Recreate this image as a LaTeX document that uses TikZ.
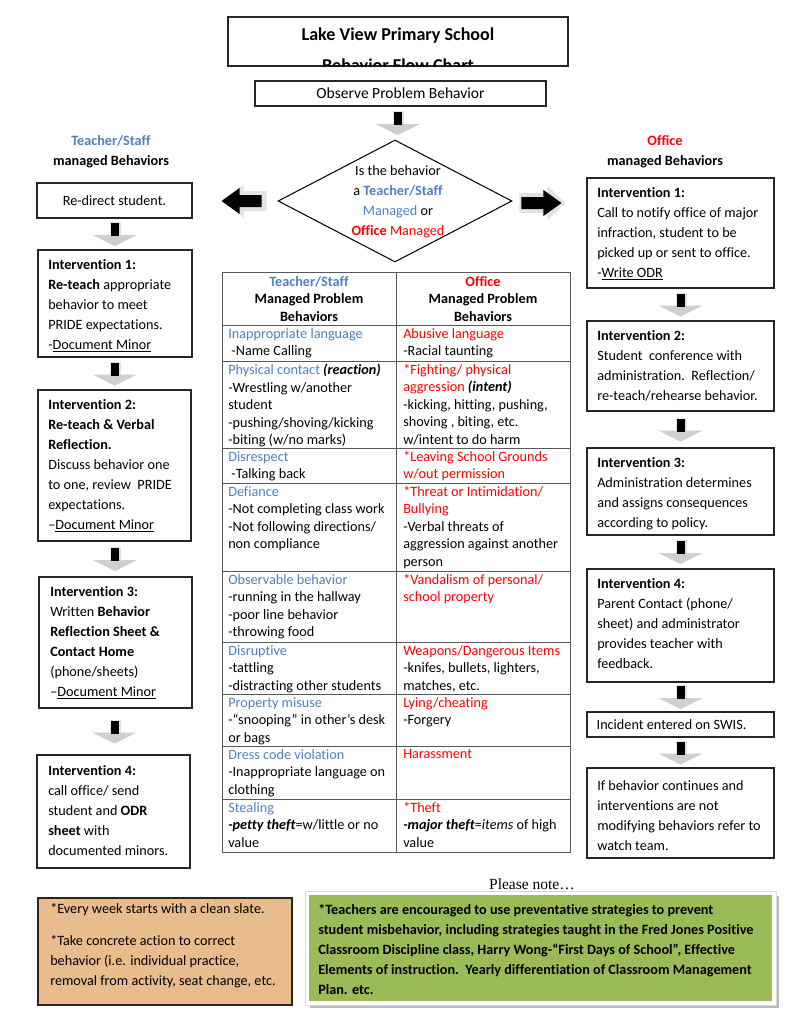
\documentclass[tikz,border=0pt]{standalone}
\usepackage{fontspec}
\setmainfont{Carlito}[Ligatures=NoCommon]
\newfontfamily\notefont{Liberation Serif}
\usetikzlibrary{calc,fit,shapes.geometric}
\definecolor{tblue}{HTML}{4F81BD}
\definecolor{ored}{HTML}{FF0000}
\definecolor{orfill}{RGB}{232,188,140}
\definecolor{grfill}{HTML}{9BBB59}
\newcommand\tb[1]{\textcolor{tblue}{#1}}
\newcommand\orr[1]{\textcolor{ored}{#1}}
\newcommand\bi[1]{\textbf{\textit{#1}}}
% down block arrow between two named nodes
\newcommand\darr[2]{%
  \coordinate (m#1) at ($(#1.south)!0.5!(#2.north)$);
  \fill[gray!22] ($(m#1)+(-5,-12)$) rectangle ($(m#1)+(6,3)$);
  \fill[gray!38] ($(m#1)+(-22,1)$) -- ($(m#1)+(22,1)$) -- ($(m#1)+(0,12)$) -- cycle;
  \fill[black] ($(m#1)+(-4,-11)$) rectangle ($(m#1)+(4,2)$);
}
\begin{document}
\begin{tikzpicture}[x=0.7737pt,y=-0.7737pt,
  bx/.style={draw=black!85,line width=0.9pt,inner sep=0pt},
  tx/.style={font=\fontsize{11}{15.5}\selectfont,align=left,inner sep=0pt,anchor=north west},
  tc/.style={font=\fontsize{11}{13.55}\selectfont,align=left,inner sep=0pt,anchor=north west},
  hd/.style={font=\fontsize{11}{13.55}\selectfont\bfseries,align=center,inner sep=0pt},
  tline/.style={draw=black!65,line width=0.6pt},
  harrow/.style={fill=black},
  hhalo/.style={fill=gray!22}]
\useasboundingbox (0,0) rectangle (791,1024);
\fill[white] (0,0) rectangle (791,1024);

% ---------- title ----------
\node[bx, fit={(228,17)(568,66)}] (title) {};
\begin{scope}
  \clip (title.north west) rectangle (title.south east);
  \node[font=\fontsize{14}{17}\selectfont\bfseries, anchor=base, inner sep=0pt] (t1) at (398,40) {Lake View Primary School};
  \node[font=\fontsize{14}{17}\selectfont\bfseries, anchor=base, inner sep=0pt] (t2) at (398,71) {Behavior Flow Chart};
\end{scope}

\node[bx, fit={(255,81)(546,106)}] (obs) {};
\node[font=\fontsize{12}{14}\selectfont, inner sep=0pt] (obst) at (obs.center) {Observe Problem Behavior};

% ---------- diamond ----------
\node[draw, diamond, minimum width=181pt, minimum height=94.4pt, inner sep=0pt, line width=0.8pt] (dia) at (395,201) {};
\node[font=\fontsize{11}{15.5}\selectfont, align=center, inner sep=0pt] (dtext) at (398,202)
  {Is the behavior\\a \textbf{\tb{Teacher/Staff}}\\\tb{Managed} or\\\textbf{\orr{Office}} \orr{Managed}};
\darr{obs}{dia}

% ---------- side headers ----------
\node[font=\fontsize{11}{15.5}\selectfont\bfseries, align=center, inner sep=0pt] (lhead) at (111,152) {\tb{Teacher/Staff}\\managed Behaviors};
\node[font=\fontsize{11}{15.5}\selectfont\bfseries, align=center, inner sep=0pt] (rhead) at (665,152) {\orr{Office}\\managed Behaviors};

% ---------- horizontal arrows ----------
\begin{scope}[shift={($(dia.west)+(-56,0)$)}, xscale=-1]
  \path[hhalo] (-4,0) -- (-22,-17) -- (-22,-10) -- (-45,-10) -- (-45,10) -- (-22,10) -- (-22,17) -- cycle;
  \path[harrow] (0,0) -- (-18,-13) -- (-18,-6) -- (-40,-6) -- (-40,6) -- (-18,6) -- (-18,13) -- cycle;
\end{scope}
\begin{scope}[shift={($(dia.east)+(49,2)$)}]
  \path[hhalo] (4,0) -- (-14,-17) -- (-14,-10) -- (-42,-10) -- (-42,10) -- (-14,10) -- (-14,17) -- cycle;
  \path[harrow] (0,0) -- (-18,-13) -- (-18,-6) -- (-40,-6) -- (-40,6) -- (-18,6) -- (-18,13) -- cycle;
\end{scope}

% ---------- left column ----------
\node[bx, fit={(37,183)(192,218)}] (L0) {};
\node[font=\fontsize{11}{15.5}\selectfont, inner sep=0pt] (L0t) at (L0.center) {Re-direct student.};
\node[bx, fit={(38,250)(192,357)}] (L1) {};
\node[tx] (L1t) at (48,259) {\textbf{Intervention 1:}\\\textbf{Re-teach} appropriate\\behavior to meet\\PRIDE expectations.\\-\underline{Document Minor}};
\node[bx, fit={(38,390)(191,541)}] (L2) {};
\node[tx] (L2t) at (48,399) {\textbf{Intervention 2:}\\\textbf{Re-teach \& Verbal}\\\textbf{Reflection.}\\Discuss behavior one\\to one, review\ \ PRIDE\\expectations.\\--\underline{Document Minor}};
\node[bx, fit={(39,577)(192,708)}] (L3) {};
\node[tx] (L3t) at (50,586) {\textbf{Intervention 3:}\\Written \textbf{Behavior}\\\textbf{Reflection Sheet \&}\\\textbf{Contact Home}\\(phone/sheets)\\--\underline{Document Minor}};
\node[bx, fit={(37,755)(190,868)}] (L4) {};
\node[tx] (L4t) at (48,765) {\textbf{Intervention 4:}\\call office/ send\\student and \textbf{ODR}\\\textbf{sheet} with\\documented minors.};
\darr{L0}{L1}
\darr{L1}{L2}
\darr{L2}{L3}
\darr{L3}{L4}

% ---------- right column ----------
\node[bx, fit={(587,178)(774,288)}] (R1) {};
\node[tx] (R1t) at (597,187) {\textbf{Intervention 1:}\\Call to notify office of major\\infraction, student to be\\picked up or sent to office.\\-\underline{Write ODR}};
\node[bx, fit={(587,321)(774,411)}] (R2) {};
\node[tx] (R2t) at (597,330) {\textbf{Intervention 2:}\\Student\ \ conference with\\administration.\ \ Reflection/\\re-teach/rehearse behavior.};
\node[bx, fit={(587,448)(774,535)}] (R3) {};
\node[tx] (R3t) at (597,457) {\textbf{Intervention 3:}\\Administration determines\\and assigns consequences\\according to policy.};
\node[bx, fit={(587,569)(774,682)}] (R4) {};
\node[tx] (R4t) at (597,578) {\textbf{Intervention 4:}\\Parent Contact (phone/\\sheet) and administrator\\provides teacher with\\feedback.};
\node[bx, fit={(587,712)(774,737)}] (R5) {};
\node[font=\fontsize{11}{15.5}\selectfont, inner sep=0pt, anchor=west] (R5t) at ($(R5.west)+(10,0)$) {Incident entered on SWIS.};
\node[bx, fit={(587,768)(774,858)}] (R6) {};
\node[tx] (R6t) at (597,780) {If behavior continues and\\interventions are not\\modifying behaviors refer to\\watch team.};
\darr{R1}{R2}
\darr{R2}{R3}
\darr{R3}{R4}
\darr{R4}{R5}
\darr{R5}{R6}

% ---------- table ----------
\draw[tline] (222,272) rectangle (570,852);
\draw[tline] (396,272) -- (396,852);
\foreach \yy in {325,361,448,483,571,642,694,746,799} \draw[tline] (222,\yy) -- (570,\yy);
\node[hd] (hl) at (309,299) {\tb{Teacher/Staff}\\Managed Problem\\Behaviors};
\node[hd] (hr) at (483,299) {\orr{Office}\\Managed Problem\\Behaviors};
\node[tc] (c1l) at (228,328) {\tb{Inappropriate language}\\\hspace{2.5pt}-Name Calling};
\node[tc] (c1r) at (403,328) {\orr{Abusive language}\\-Racial taunting};
\node[tc] (c2l) at (228,364) {\tb{Physical contact} \bi{(reaction)}\\-Wrestling w/another\\student\\-pushing/shoving/kicking\\-biting (w/no marks)};
\node[tc] (c2r) at (403,364) {\orr{*Fighting/ physical}\\\orr{aggression} \bi{(intent)}\\-kicking, hitting, pushing,\\shoving , biting, etc.\\w/intent to do harm};
\node[tc] (c3l) at (228,451) {\tb{Disrespect}\\\hspace{2.5pt}-Talking back};
\node[tc] (c3r) at (403,451) {\orr{*Leaving School Grounds}\\\orr{w/out permission}};
\node[tc] (c4l) at (228,486) {\tb{Defiance}\\-Not completing class work\\-Not following directions/\\non compliance};
\node[tc] (c4r) at (403,486) {\orr{*Threat or Intimidation/}\\\orr{Bullying}\\-Verbal threats of\\aggression against another\\person};
\node[tc] (c5l) at (228,574) {\tb{Observable behavior}\\-running in the hallway\\-poor line behavior\\-throwing food};
\node[tc] (c5r) at (403,574) {\orr{*Vandalism of personal/}\\\orr{school property}};
\node[tc] (c6l) at (228,645) {\tb{Disruptive}\\-tattling\\-distracting other students};
\node[tc] (c6r) at (403,645) {\orr{Weapons/Dangerous Items}\\-knifes, bullets, lighters,\\matches, etc.};
\node[tc] (c7l) at (228,697) {\tb{Property misuse}\\-“snooping” in other’s desk\\or bags};
\node[tc] (c7r) at (403,697) {\orr{Lying/cheating}\\-Forgery};
\node[tc] (c8l) at (228,749) {\tb{Dress code violation}\\-Inappropriate language on\\clothing};
\node[tc] (c8r) at (403,749) {\orr{Harassment}};
\node[tc] (c9l) at (228,802) {\tb{Stealing}\\\bi{-petty theft}=w/little or no\\value};
\node[tc] (c9r) at (403,802) {\orr{*Theft}\\\bi{-major theft}=\textit{items} of high\\value};

% ---------- bottom notes ----------
\node[bx, fill=orfill, fit={(38,898)(292,1005)}] (onote) {};
\node[tx, font=\fontsize{11}{15.5}\selectfont] (onotet) at (50,903) {*Every week starts with a clean slate.\\[9pt]*Take concrete action to correct\\behavior (i.e. individual practice,\\removal from activity, seat change, etc.};

\node[font=\notefont\fontsize{12}{14}\selectfont, inner sep=0pt] (pn) at (532,884) {Please note…};
\fill[gray!55] (310,896) rectangle (779,1008);
\node[draw=gray!30, fill=white, line width=0.6pt, fit={(305,891)(776,1005)}, inner sep=0pt] (gframe) {};
\node[fill=grfill, fit={(309,895)(772,1001)}, inner sep=0pt] (gnote) {};
\node[tx, font=\fontsize{11}{15.5}\selectfont\bfseries] (gnotet) at (318,904) {*Teachers are encouraged to use preventative strategies to prevent\\student misbehavior, including strategies taught in the Fred Jones Positive\\Classroom Discipline class, Harry Wong-“First Days of School”, Effective\\Elements of instruction.\ \ Yearly differentiation of Classroom Management\\Plan. etc.};
\end{tikzpicture}
\end{document}
